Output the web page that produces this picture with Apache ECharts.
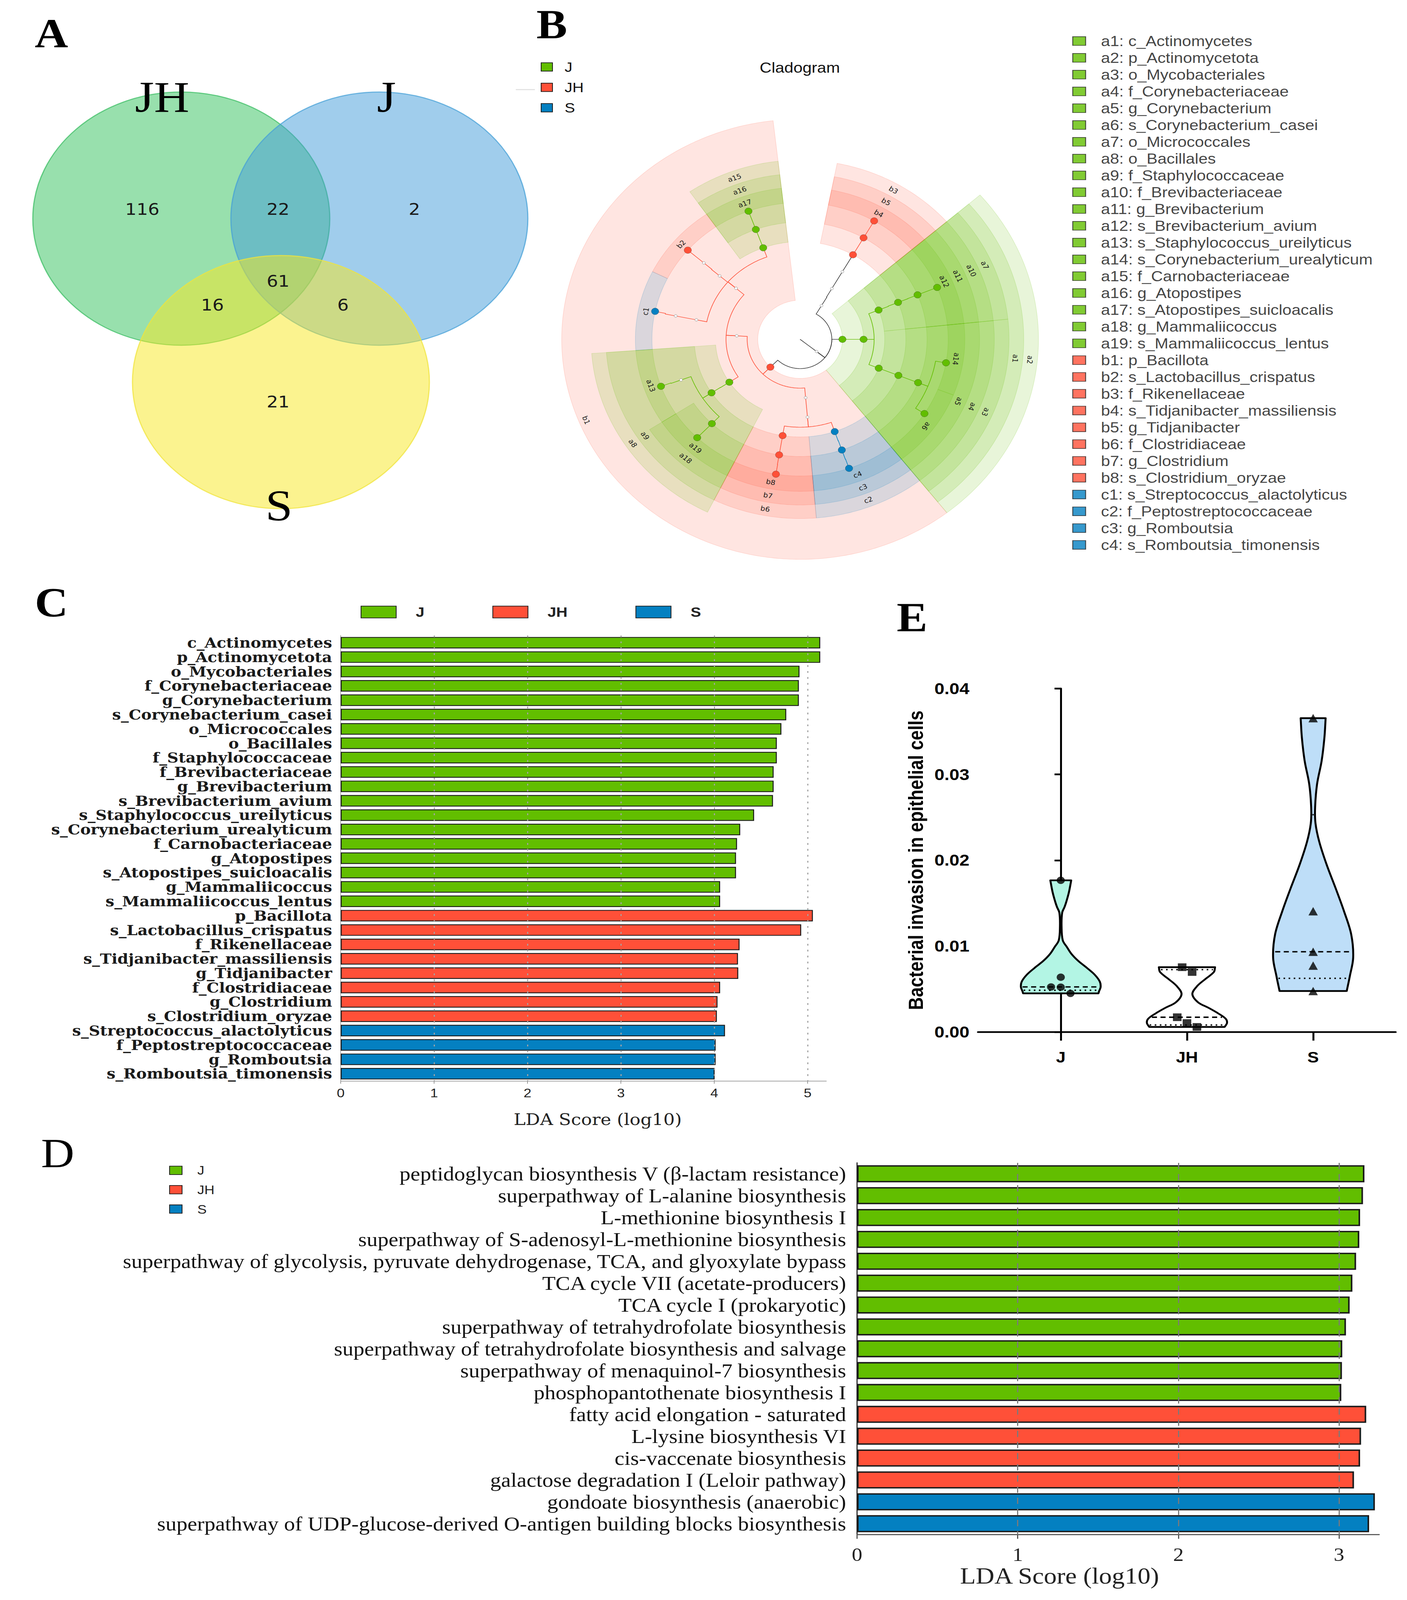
<!DOCTYPE html>
<html>
<head>
<meta charset="utf-8">
<title>Figure</title>
<script src="https://cdn.jsdelivr.net/npm/echarts@6.0.0/dist/echarts.min.js"></script>
<style>
html,body{margin:0;padding:0;background:#ffffff;overflow:hidden;}
#chart{position:absolute;left:0;top:0;width:3601px;height:4588px;transform-origin:0 0;}
</style>
</head>
<body>
<div id="chart"></div>
<script>
// ================= DATA =================
const groupNames = ['J', 'JH', 'S'];
const groupColors = ['#62be00', '#ff5038', '#0480c1'];

// ---- A: Venn diagram ----
const vennSetNames = ['JH', 'J', 'S'];
const vennRegionNames = ['JH only', 'JH & J', 'J only', 'JH & J & S', 'JH & S', 'J & S', 'S only'];
const vennRegionCounts = [116, 22, 2, 61, 16, 6, 21];

// ---- B: cladogram taxa: [taxon, parent, angle (deg), enriched group, key, clade span start, span end] ----
const cladeTaxa = [
  ['r__Root', null, 321.3, null],
  ['k__Bacteria', 'r__Root', 321.3, null],
  ['p_Bacillota', 'k__Bacteria', 225.4, 'JH', 'b1', 96.5, 308],
  ['p_Actinomycetota', 'k__Bacteria', 360, 'J', 'a2', 308, 401],
  ['p_Bacteroidota', 'k__Bacteria', 419.6, null],
  ['c_Bacilli', 'p_Bacillota', 176.6, null],
  ['c_Clostridia', 'p_Bacillota', 275, null],
  ['c_Actinomycetes', 'p_Actinomycetota', 360, 'J', 'a1', 308, 401],
  ['c_Bacteroidia', 'p_Bacteroidota', 420, null],
  ['o_Lactobacillales', 'c_Bacilli', 139.2, null],
  ['o_Bacillales', 'c_Bacilli', 213.3, 'J', 'a8', 184.2, 243.7],
  ['o_Eubacteriales', 'c_Clostridia', 275, null],
  ['o_Mycobacteriales', 'c_Actinomycetes', 338.3, 'J', 'a3', 308, 366],
  ['o_Micrococcales', 'c_Actinomycetes', 382, 'J', 'a7', 366, 401],
  ['o_Bacteroidales', 'c_Bacteroidia', 420, null],
  ['f_Carnobacteriaceae', 'o_Lactobacillales', 110.4, 'J', 'a15', 96.5, 124.6],
  ['f_Lactobacillaceae', 'o_Lactobacillales', 139.5, null],
  ['f_Streptococcaceae', 'o_Lactobacillales', 168.5, null],
  ['f_Staphylococcaceae', 'o_Bacillales', 213.2, 'J', 'a9', 184.2, 243.7],
  ['f_Clostridiaceae', 'o_Eubacteriales', 260.5, 'JH', 'b6', 243.7, 274.8],
  ['f_Peptostreptococcaceae', 'o_Eubacteriales', 289.1, 'S', 'c2', 274.8, 308],
  ['f_Corynebacteriaceae', 'o_Mycobacteriales', 338.3, 'J', 'a4', 308, 366],
  ['f_Brevibacteriaceae', 'o_Micrococcales', 382.2, 'J', 'a10', 366, 401],
  ['f_Rikenellaceae', 'o_Bacteroidales', 420, 'JH', 'b3', 401, 439],
  ['g_Atopostipes', 'f_Carnobacteriaceae', 110.4, 'J', 'a16', 96.5, 124.6],
  ['g_Lactobacillus', 'f_Lactobacillaceae', 139.3, null],
  ['g_Streptococcus', 'f_Streptococcaceae', 168.5, null],
  ['g_Staphylococcus', 'f_Staphylococcaceae', 200.3, null],
  ['g_Mammaliicoccus', 'f_Staphylococcaceae', 226, 'J', 'a18', 213, 243.7],
  ['g_Clostridium', 'f_Clostridiaceae', 260.5, 'JH', 'b7', 243.7, 274.8],
  ['g_Romboutsia', 'f_Peptostreptococcaceae', 289.2, 'S', 'c3', 274.8, 308],
  ['g_Corynebacterium', 'f_Corynebacteriaceae', 338.3, 'J', 'a5', 308, 366],
  ['g_Brevibacterium', 'f_Brevibacteriaceae', 382.3, 'J', 'a11', 366, 401],
  ['g_Tidjanibacter', 'f_Rikenellaceae', 420, 'JH', 'b5', 401, 439],
  ['s_Atopostipes_suicloacalis', 'g_Atopostipes', 110.4, 'J', 'a17', 96.5, 124.6],
  ['s_Lactobacillus_crispatus', 'g_Lactobacillus', 139.3, 'JH', 'b2', 124.6, 153.6],
  ['s_Streptococcus_alactolyticus', 'g_Streptococcus', 168.2, 'S', 'c1', 153.6, 184.2],
  ['s_Staphylococcus_ureilyticus', 'g_Staphylococcus', 200.1, 'J', 'a13', 184.2, 213],
  ['s_Mammaliicoccus_lentus', 'g_Mammaliicoccus', 226, 'J', 'a19', 213, 243.7],
  ['s_Clostridium_oryzae', 'g_Clostridium', 260.6, 'JH', 'b8', 243.7, 274.8],
  ['s_Romboutsia_timonensis', 'g_Romboutsia', 289.3, 'S', 'c4', 274.8, 308],
  ['s_Corynebacterium_casei', 'g_Corynebacterium', 327.1, 'J', 'a6', 308, 338.5],
  ['s_Corynebacterium_urealyticum', 'g_Corynebacterium', 350.1, 'J', 'a14', 338.5, 366],
  ['s_Brevibacterium_avium', 'g_Brevibacterium', 382.3, 'J', 'a12', 366, 401],
  ['s_Tidjanibacter_massiliensis', 'g_Tidjanibacter', 420, 'JH', 'b4', 401, 439]
];

// ---- C: LEfSe LDA scores (taxa) ----
const cTaxa = ['c_Actinomycetes','p_Actinomycetota','o_Mycobacteriales','f_Corynebacteriaceae','g_Corynebacterium',
  's_Corynebacterium_casei','o_Micrococcales','o_Bacillales','f_Staphylococcaceae','f_Brevibacteriaceae',
  'g_Brevibacterium','s_Brevibacterium_avium','s_Staphylococcus_ureilyticus','s_Corynebacterium_urealyticum',
  'f_Carnobacteriaceae','g_Atopostipes','s_Atopostipes_suicloacalis','g_Mammaliicoccus','s_Mammaliicoccus_lentus',
  'p_Bacillota','s_Lactobacillus_crispatus','f_Rikenellaceae','s_Tidjanibacter_massiliensis','g_Tidjanibacter',
  'f_Clostridiaceae','g_Clostridium','s_Clostridium_oryzae','s_Streptococcus_alactolyticus',
  'f_Peptostreptococcaceae','g_Romboutsia','s_Romboutsia_timonensis'];
const cGroup = ['J','J','J','J','J','J','J','J','J','J','J','J','J','J','J','J','J','J','J',
  'JH','JH','JH','JH','JH','JH','JH','JH','S','S','S','S'];
const cLDA = [5.135,5.135,4.913,4.906,4.906,4.771,4.719,4.670,4.670,4.636,4.636,4.629,4.427,4.278,4.244,4.233,
  4.233,4.063,4.063,5.056,4.931,4.271,4.254,4.257,4.063,4.035,4.028,4.115,4.015,4.015,4.004];
const cTicks = [0, 1, 2, 3, 4, 5];

// ---- D: LEfSe LDA scores (pathways) ----
const dPaths = ['peptidoglycan biosynthesis V (β-lactam resistance)','superpathway of L-alanine biosynthesis',
  'L-methionine biosynthesis I','superpathway of S-adenosyl-L-methionine biosynthesis',
  'superpathway of glycolysis, pyruvate dehydrogenase, TCA, and glyoxylate bypass','TCA cycle VII (acetate-producers)',
  'TCA cycle I (prokaryotic)','superpathway of tetrahydrofolate biosynthesis',
  'superpathway of tetrahydrofolate biosynthesis and salvage','superpathway of menaquinol-7 biosynthesis',
  'phosphopantothenate biosynthesis I','fatty acid elongation - saturated','L-lysine biosynthesis VI',
  'cis-vaccenate biosynthesis','galactose degradation I (Leloir pathway)','gondoate biosynthesis (anaerobic)',
  'superpathway of UDP-glucose-derived O-antigen building blocks biosynthesis'];
const dGroup = ['J','J','J','J','J','J','J','J','J','J','J','JH','JH','JH','JH','S','S'];
const dLDA = [3.158,3.149,3.131,3.126,3.106,3.083,3.066,3.043,3.020,3.018,3.014,3.169,3.137,3.131,3.093,3.223,3.187];
const dTicks = [0, 1, 2, 3];

// ---- E: bacterial invasion (violin) ----
const eGroups = ['J', 'JH', 'S'];
const eValues = [
  [0.01766, 0.00637, 0.00524, 0.00521, 0.00449],
  [0.00754, 0.00698, 0.00171, 0.00103, 0.00058],
  [0.03655, 0.01406, 0.00934, 0.00772, 0.00476]
];
const eJitter = [
  [0, 0, -0.077, 0, 0.077],
  [-0.038, 0.041, -0.077, 0, 0.079],
  [0, 0, 0, 0, 0]
];
// violin outline: [value, relative density]
const eDensityJ = [[0.01766,0.261],[0.0163,0.205],[0.01517,0.139],[0.01455,0.094],[0.01389,0.035],[0.01228,0.02],
  [0.01067,0.05],[0.00987,0.156],[0.00907,0.27],[0.00826,0.439],[0.00746,0.654],[0.00666,0.849],[0.00585,0.976],
  [0.00521,0.995],[0.00473,0.956],[0.00449,0.941]];
const eDensityJH = [[0.00754,0.702],[0.00698,0.673],[0.00618,0.466],[0.00537,0.261],[0.00441,0.135],[0.00344,0.28],
  [0.0028,0.541],[0.00216,0.78],[0.00152,0.971],[0.00103,1.0],[0.00058,0.941]];
const eDensityS = [[0.03655,0.312],[0.03426,0.281],[0.03157,0.212],[0.02887,0.098],[0.02618,0.049],[0.02429,0.059],
  [0.02214,0.154],[0.01944,0.341],[0.01675,0.561],[0.01406,0.771],[0.01136,0.951],[0.00866,1.0],[0.00651,0.917],
  [0.00476,0.839]];

// ================= LAYOUT / STYLE =================
const PAGE_W = 3601, PAGE_H = 4588;
const SANS = 'Liberation Sans';
const SERIF = 'Liberation Serif';
const DVSERIF = 'DejaVu Serif';
const vennLayout = {
  centers: [[0, 0], [1.334, 0], [0.671, -1.291]],
  setLabelPos: [[-0.129, 0.96], [1.382, 0.96], [0.658, -2.267]],
  regionPos: [[-0.263, 0.074], [0.652, 0.074], [1.570, 0.074], [0.652, -0.493], [0.210, -0.683], [1.089, -0.683], [0.652, -1.447]],
  fills: ['rgba(49,193,91,0.5)', 'rgba(65,155,217,0.5)', 'rgba(247,231,31,0.5)'],
  strokes: ['rgba(60,190,100,0.75)', 'rgba(70,160,215,0.75)', 'rgba(240,228,60,0.75)']
};
const clade = { step: 56, outer7: 436, band: 39 };
const violinFill = ['#b3f5e4', '#ffffff', '#bedef8'];
const violinHalfWidth = 0.3173;
const eSymbols = ['circle', 'rect', 'triangle'];
const eSymbolSize = [21, 22, 24];

function gColor(g) { return groupColors[groupNames.indexOf(g)]; }
function rgba(hex, a) {
  const n = parseInt(hex.slice(1), 16);
  return 'rgba(' + ((n >> 16) & 255) + ',' + ((n >> 8) & 255) + ',' + (n & 255) + ',' + a + ')';
}
const cladeByName = {};
cladeTaxa.forEach(t => { cladeByName[t[0]] = t; });
function cladeDepth(name) { return { r: 0, k: 1, p: 2, c: 3, o: 4, f: 5, g: 6, s: 7 }[name[0]]; }
function cladeEffGroup(name) {
  let n = cladeByName[name];
  while (n) { if (n[3]) return n[3]; n = n[1] ? cladeByName[n[1]] : null; }
  return null;
}
const cladeKeyList = cladeTaxa.filter(t => t[3]).slice().sort((a, b) => {
  if (a[4][0] !== b[4][0]) return a[4][0] < b[4][0] ? -1 : 1;
  return parseInt(a[4].slice(1)) - parseInt(b[4].slice(1));
});

function gpQuantile(vals, p) {
  const s = vals.slice().sort((a, b) => a - b); const n = s.length; const h = (n + 1) * p;
  const lo = Math.floor(h), hi = Math.ceil(h);
  if (lo < 1) return s[0]; if (hi > n) return s[n - 1];
  return s[lo - 1] + (h - lo) * (s[hi - 1] - s[lo - 1]);
}
function densityAt(prof, v) {
  for (let i = 0; i < prof.length - 1; i++) {
    const a = prof[i], b = prof[i + 1];
    if (v <= a[0] && v >= b[0]) { const t = (a[0] - v) / (a[0] - b[0]); return a[1] + t * (b[1] - a[1]); }
  }
  return 0;
}
const eDensity = [eDensityJ, eDensityJH, eDensityS];

// ---- fit the page to the real viewport (scale only if it differs) ----
const el = document.getElementById('chart');
(function fit() {
  const vw = document.documentElement.clientWidth || window.innerWidth || PAGE_W;
  const vh = document.documentElement.clientHeight || window.innerHeight || PAGE_H;
  const sx = vw / PAGE_W, sy = vh / PAGE_H;
  if (Math.abs(sx - 1) > 0.002 || Math.abs(sy - 1) > 0.002) el.style.transform = 'scale(' + sx + ',' + sy + ')';
})();

// ================= CHART =================
const chart = echarts.init(el, null, { renderer: 'svg', width: PAGE_W, height: PAGE_H });

const hiddenX = (gi, min, max) => ({ gridIndex: gi, type: 'value', min: min, max: max, show: false });
const hiddenY = (gi, min, max) => ({ gridIndex: gi, type: 'value', min: min, max: max, show: false });

const option = {
  animation: false,
  backgroundColor: '#ffffff',
  grid: [
    { left: 8, top: 191.4, width: 1596, height: 1379.4, outerBoundsMode: 'none' },
    { left: 1370.8, top: 273, width: 1353.8, height: 1400, outerBoundsMode: 'none' },
    { left: 2762, top: 93.6, width: 100, height: 1493, outerBoundsMode: 'none' },
    { left: 872, top: 1822.4, width: 1242.8, height: 1277, outerBoundsMode: 'none' },
    { left: 2193.5, top: 3334.5, width: 1336.4, height: 1066, outerBoundsMode: 'none' },
    { left: 2503, top: 1974.5, width: 1069, height: 984.5, outerBoundsMode: 'none' }
  ],
  xAxis: [
    hiddenX(0, -1.2, 3.0),
    hiddenX(1, -700, 700),
    hiddenX(2, 0, 1),
    {
      gridIndex: 3, type: 'value', min: 0, max: 5.2,
      axisLine: { show: true, lineStyle: { color: '#999', width: 2 } },
      axisTick: { show: true, customValues: cTicks, length: 8, lineStyle: { color: '#999', width: 2 } },
      axisLabel: { customValues: cTicks, fontFamily: SANS, fontSize: 36, color: '#222', margin: 16 },
      splitLine: { show: false },
      name: 'LDA Score (log10)', nameLocation: 'middle', nameGap: 88,
      nameTextStyle: { fontFamily: DVSERIF, fontSize: 46, color: '#222', padding: [0, 0, 0, 73] }
    },
    {
      gridIndex: 4, type: 'value', min: 0, max: 3.25,
      axisLine: { show: true, lineStyle: { color: '#555', width: 3 } },
      axisTick: { show: true, customValues: dTicks, length: 12, lineStyle: { color: '#555', width: 3 } },
      axisLabel: { customValues: dTicks, fontFamily: SERIF, fontSize: 54, color: '#222', margin: 30 },
      splitLine: { show: false },
      name: 'LDA Score (log10)', nameLocation: 'middle', nameGap: 84,
      nameTextStyle: { fontFamily: SERIF, fontSize: 66, color: '#222', padding: [0, 300, 0, 0] }
    },
    {
      gridIndex: 5, type: 'value', min: -0.656, max: 2.654,
      axisLine: { show: true, lineStyle: { color: '#000', width: 5 } },
      axisTick: { show: true, customValues: [0, 1, 2], length: 25, lineStyle: { color: '#000', width: 5 } },
      axisLabel: { customValues: [0, 1, 2], formatter: v => eGroups[Math.round(v)], fontFamily: SANS, fontWeight: 'bold', fontSize: 44, color: '#000', margin: 50 },
      splitLine: { show: false }
    }
  ],
  yAxis: [
    hiddenY(0, -2.6, 1.2),
    hiddenY(1, -700, 700),
    { gridIndex: 2, type: 'category', inverse: true, data: cladeKeyList.map(t => t[4]), show: false },
    {
      gridIndex: 3, type: 'category', inverse: true, data: cTaxa,
      axisLine: { show: true, lineStyle: { color: '#aaa', width: 2 } },
      axisTick: { show: false },
      axisLabel: { interval: 0, fontFamily: DVSERIF, fontWeight: 'bold', fontSize: 40, color: '#1a1a1a', margin: 22 }
    },
    {
      gridIndex: 4, type: 'category', inverse: true, data: dPaths,
      axisLine: { show: true, lineStyle: { color: '#333', width: 3 } },
      axisTick: { show: false },
      axisLabel: { interval: 0, fontFamily: SERIF, fontSize: 56, color: '#111', margin: 28 }
    },
    {
      gridIndex: 5, type: 'value', min: 0, max: 0.04, interval: 0.01,
      axisLine: { show: true, lineStyle: { color: '#000', width: 5 } },
      axisTick: { show: true, length: 16, lineStyle: { color: '#000', width: 5 } },
      axisLabel: { formatter: v => v.toFixed(2), fontFamily: SANS, fontWeight: 'bold', fontSize: 46, color: '#000', margin: 22 },
      splitLine: { show: false },
      name: 'Bacterial invasion in epithelial cells', nameLocation: 'middle', nameGap: 133,
      nameTextStyle: { fontFamily: SANS, fontWeight: 'bold', fontSize: 51, color: '#000' }
    }
  ],
  legend: [
    {
      data: groupNames, orient: 'vertical', left: 1379, top: 167, itemWidth: 29, itemHeight: 24, itemGap: 18.5,
      icon: 'rect', selectedMode: false,
      textStyle: { fontFamily: SANS, fontSize: 40, color: '#111', padding: [0, 0, 0, 26] }
    },
    {
      data: groupNames, orient: 'horizontal', left: 918, top: 1730, itemWidth: 90, itemHeight: 34, itemGap: 174,
      icon: 'rect', selectedMode: false,
      textStyle: { fontFamily: SANS, fontWeight: 'bold', fontSize: 40, color: '#222', padding: [0, 0, 0, 45] }
    },
    {
      data: groupNames, orient: 'vertical', left: 428, top: 3333, itemWidth: 32, itemHeight: 24, itemGap: 19.5,
      icon: 'rect', selectedMode: false,
      textStyle: { fontFamily: SANS, fontSize: 36, color: '#222', padding: [0, 0, 0, 34] }
    }
  ],
  graphic: [
    { type: 'text', x: 89, y: 96, style: { text: 'A', fontFamily: SERIF, fontWeight: 'bold', fontSize: 118, fill: '#000', align: 'left', verticalAlign: 'middle', textAlign: 'left', textVerticalAlign: 'middle' } },
    { type: 'text', x: 1373, y: 70, style: { text: 'B', fontFamily: SERIF, fontWeight: 'bold', fontSize: 118, fill: '#000', align: 'left', verticalAlign: 'middle', textAlign: 'left', textVerticalAlign: 'middle' } },
    { type: 'text', x: 89, y: 1728, style: { text: 'C', fontFamily: SERIF, fontWeight: 'bold', fontSize: 118, fill: '#000', align: 'left', verticalAlign: 'middle', textAlign: 'left', textVerticalAlign: 'middle' } },
    { type: 'text', x: 105, y: 3307, style: { text: 'D', fontFamily: SERIF, fontWeight: 'normal', fontSize: 118, fill: '#000', align: 'left', verticalAlign: 'middle', textAlign: 'left', textVerticalAlign: 'middle' } },
    { type: 'text', x: 2295, y: 1770, style: { text: 'E', fontFamily: SERIF, fontWeight: 'bold', fontSize: 118, fill: '#000', align: 'left', verticalAlign: 'middle', textAlign: 'left', textVerticalAlign: 'middle' } },
    { type: 'text', x: 2047, y: 194, style: { text: 'Cladogram', fontFamily: SANS, fontSize: 42, fill: '#111', align: 'center', verticalAlign: 'middle', textAlign: 'center', textVerticalAlign: 'middle' } },
    { type: 'line', shape: { x1: 1320, y1: 257, x2: 1369, y2: 257 }, style: { stroke: '#e2e2e2', lineWidth: 3 } }
  ],
  series: []
};

// ---- A: Venn ellipses ----
option.series.push({
  type: 'custom', xAxisIndex: 0, yAxisIndex: 0, silent: true, clip: false, z: 1,
  data: vennLayout.centers.map((c, i) => [c[0], c[1], i]),
  renderItem: (params, api) => {
    const i = params.dataIndex;
    const c = api.coord([api.value(0), api.value(1)]);
    const s = api.size([1, 1]);
    return { type: 'ellipse', shape: { cx: c[0], cy: c[1], rx: s[0], ry: s[1] },
      style: { fill: vennLayout.fills[i], stroke: vennLayout.strokes[i], lineWidth: 3 } };
  }
});
option.series.push({
  type: 'custom', xAxisIndex: 0, yAxisIndex: 0, silent: true, clip: false, z: 3,
  data: vennLayout.regionPos.map((p, i) => [p[0], p[1], vennRegionCounts[i]]),
  renderItem: (params, api) => {
    const c = api.coord([api.value(0), api.value(1)]);
    return { type: 'text', x: c[0], y: c[1], style: { text: String(api.value(2)), fontFamily: 'DejaVu Sans', fontSize: 46,
      fill: '#1a1a1a', align: 'center', verticalAlign: 'middle', textAlign: 'center', textVerticalAlign: 'middle' } };
  }
});
option.series.push({
  type: 'custom', xAxisIndex: 0, yAxisIndex: 0, silent: true, clip: false, z: 3,
  data: vennLayout.setLabelPos.map((p, i) => [p[0], p[1], i]),
  renderItem: (params, api) => {
    const c = api.coord([api.value(0), api.value(1)]);
    return { type: 'text', x: c[0], y: c[1], style: { text: vennSetNames[params.dataIndex], fontFamily: SERIF, fontSize: 125,
      fill: '#000', align: 'center', verticalAlign: 'middle', textAlign: 'center', textVerticalAlign: 'middle' } };
  }
});

// ---- B: cladogram ----
option.series.push({
  type: 'custom', xAxisIndex: 1, yAxisIndex: 1, silent: true, clip: false, z: 2,
  data: [[0, 0]],
  renderItem: (params, api) => {
    const P = (r, deg) => { const a = deg * Math.PI / 180; return api.coord([r * Math.cos(a), r * Math.sin(a)]); };
    const arcPts = (r, a0, a1) => {
      const n = Math.max(1, Math.ceil(Math.abs(a1 - a0) / 0.75)); const pts = [];
      for (let i = 0; i <= n; i++) pts.push(P(r, a0 + (a1 - a0) * i / n));
      return pts;
    };
    const nodeR = d => clade.step * d;
    const outerR = d => clade.outer7 + clade.band * (7 - d);
    const kids = [];
    const sig = cladeTaxa.filter(t => t[3]).slice().sort((a, b) => cladeDepth(a[0]) - cladeDepth(b[0]));
    sig.forEach(t => {
      const d = cladeDepth(t[0]);
      const pts = arcPts(outerR(d), t[5], t[6]).concat(arcPts(nodeR(d), t[6], t[5]));
      const col = gColor(t[3]);
      kids.push({ type: 'polygon', shape: { points: pts }, z2: 1,
        style: { fill: rgba(col, 0.15), stroke: rgba(col, 0.22), lineWidth: 1.2 } });
    });
    cladeTaxa.forEach(t => {
      if (!t[1]) return;
      const p = cladeByName[t[1]];
      const rp = nodeR(cladeDepth(p[0])), rc = nodeR(cladeDepth(t[0])), rm = (rp + rc) / 2;
      const pts = [P(rp, p[2])].concat(arcPts(rm, p[2], t[2]), [P(rc, t[2])]);
      const g = cladeEffGroup(p[0]);
      kids.push({ type: 'polyline', shape: { points: pts }, z2: 2,
        style: { stroke: g ? gColor(g) : '#333', lineWidth: 1.6, fill: null } });
    });
    cladeTaxa.forEach(t => {
      const d = cladeDepth(t[0]); if (d === 0) return;
      const c = P(nodeR(d), t[2]);
      if (t[3]) kids.push({ type: 'circle', shape: { cx: c[0], cy: c[1], r: 9.5 }, z2: 4,
        style: { fill: gColor(t[3]), stroke: 'rgba(0,0,0,0.35)', lineWidth: 1 } });
      else kids.push({ type: 'circle', shape: { cx: c[0], cy: c[1], r: 3.8 }, z2: 3,
        style: { fill: '#ffffff', stroke: '#888', lineWidth: 1 } });
    });
    sig.forEach(t => {
      const d = cladeDepth(t[0]);
      const mid = (t[5] + t[6]) / 2;
      const c = P(outerR(d) - clade.band / 2, mid);
      const m = ((mid % 360) + 360) % 360;
      const rot = (m >= 180 && m < 310) ? m + 90 : m - 90;
      kids.push({ type: 'text', x: c[0], y: c[1], rotation: rot * Math.PI / 180, z2: 5,
        style: { text: t[4], fontFamily: 'DejaVu Sans', fontSize: 19, fill: '#1a1a1a', align: 'center', verticalAlign: 'middle', textAlign: 'center', textVerticalAlign: 'middle' } });
    });
    return { type: 'group', children: kids };
  }
});

// ---- B: key list ----
option.series.push({
  type: 'scatter', xAxisIndex: 2, yAxisIndex: 2, silent: true, symbol: 'rect', symbolSize: [33, 25], z: 3,
  data: cladeKeyList.map((t, i) => ({ name: t[4] + ': ' + t[0], value: [0, i],
    itemStyle: { color: gColor(t[3]), borderColor: '#222', borderWidth: 2 } })),
  label: { show: true, position: 'right', distance: 38, formatter: p => p.name, fontFamily: SANS, fontSize: 42, color: '#111' }
});

// ---- C & D: bars ----
function lefseBars(xi, yi, groupsArr, vals, ticks, barW, border, gridStyle) {
  groupNames.forEach((g, gi) => {
    const s = {
      type: 'bar', name: g, xAxisIndex: xi, yAxisIndex: yi, barWidth: barW, barGap: '-100%', silent: true,
      z: gi === 2 ? 3 : 2,
      data: vals.map((v, i) => groupsArr[i] === g ? v : '-'),
      itemStyle: { color: groupColors[gi], borderColor: '#1a1a1a', borderWidth: border }
    };
    if (gi === 2) {
      s.markLine = { silent: true, symbol: ['none', 'none'], label: { show: false }, animation: false,
        lineStyle: gridStyle, data: ticks.filter(v => v > 0).map(v => ({ xAxis: v })) };
    }
    option.series.push(s);
  });
}
lefseBars(3, 3, cGroup, cLDA, cTicks, 33, 2.5, { type: [5, 12], color: '#a4a4a4', width: 3 });
lefseBars(4, 4, dGroup, dLDA, dTicks, 49, 4, { type: [18, 14], color: '#7a7a7a', width: 3 });

// ---- E: violins ----
option.series.push({
  type: 'custom', xAxisIndex: 5, yAxisIndex: 5, silent: true, clip: false, z: 2,
  data: eGroups.map((g, i) => [i]),
  renderItem: (params, api) => {
    const g = params.dataIndex;
    const prof = eDensity[g];
    const L = prof.map(p => api.coord([g - p[1] * violinHalfWidth, p[0]]));
    const R = prof.map(p => api.coord([g + p[1] * violinHalfWidth, p[0]])).reverse();
    const pts = [L[0], L[0]].concat(L.slice(1, -1), [L[L.length - 1], L[L.length - 1], R[0], R[0]], R.slice(1, -1), [R[R.length - 1], R[R.length - 1]]);
    const kids = [{ type: 'polygon', shape: { points: pts, smooth: 0.35 },
      style: { fill: violinFill[g], stroke: '#000', lineWidth: 5, lineJoin: 'round' } }];
    const vals = eValues[g];
    const lines = [[gpQuantile(vals, 0.5), [13, 9]], [gpQuantile(vals, 0.25), [4, 9]], [gpQuantile(vals, 0.75), [4, 9]]];
    lines.forEach(([v, dash]) => {
      const d = densityAt(prof, v) * violinHalfWidth;
      const a = api.coord([g - d, v]), b = api.coord([g + d, v]);
      if (b[0] - a[0] > 8) kids.push({ type: 'line', shape: { x1: a[0] + 4, y1: a[1], x2: b[0] - 4, y2: b[1] },
        style: { stroke: '#000', lineWidth: 4, lineDash: dash } });
    });
    return { type: 'group', children: kids };
  }
});
eGroups.forEach((g, gi) => {
  option.series.push({
    type: 'scatter', xAxisIndex: 5, yAxisIndex: 5, silent: true, z: 4,
    symbol: eSymbols[gi], symbolSize: eSymbolSize[gi],
    itemStyle: { color: '#000' },
    data: eValues[gi].map((v, i) => [gi + eJitter[gi][i], v])
  });
});

chart.setOption(option);
</script>
</body>
</html>
